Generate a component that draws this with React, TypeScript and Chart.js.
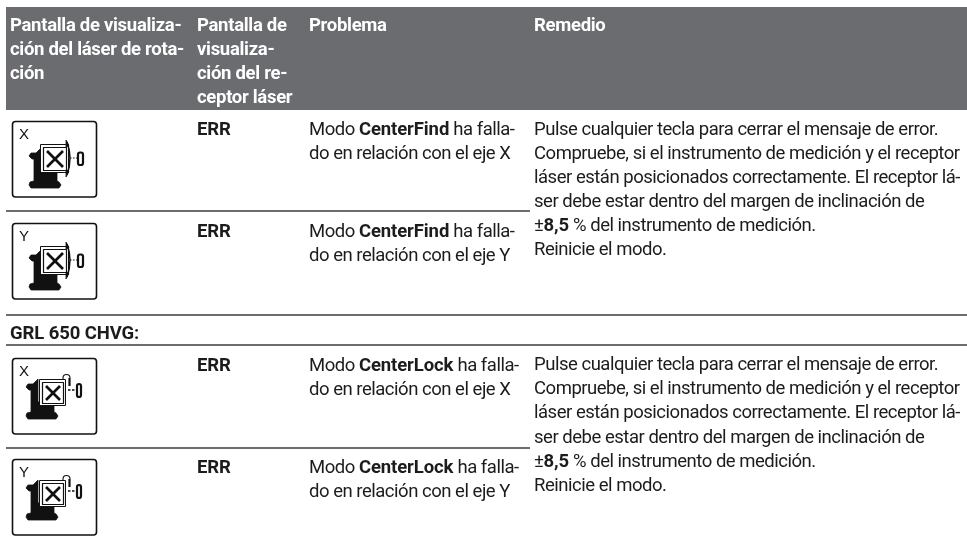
import React, { useEffect, useRef } from "react";
import { Chart, registerables } from "chart.js";

Chart.register(...registerables);

const W = 967;
const H = 541;

// table text: [x, baseline y, runs] where "*" toggles bold
const headerLines: [number, number, string][] = [
  [10, 31, "Pantalla de visualiza-"],
  [10, 55, "ción del láser de rota-"],
  [10, 79, "ción"],
  [197, 31, "Pantalla de"],
  [197, 55, "visualiza-"],
  [197, 79, "ción del re-"],
  [197, 103, "ceptor láser"],
  [309, 31, "Problema"],
  [534, 31, "Remedio"],
];

const bodyLines: [number, number, string][] = [
  [197, 135, "*ERR*"],
  [309, 135, "Modo *CenterFind* ha falla-"],
  [309, 159, "do en relación con el eje X"],
  [197, 237, "*ERR*"],
  [309, 237, "Modo *CenterFind* ha falla-"],
  [309, 261, "do en relación con el eje Y"],
  [10, 339, "*GRL 650 CHVG:*"],
  [197, 371, "*ERR*"],
  [309, 371, "Modo *CenterLock* ha falla-"],
  [309, 395, "do en relación con el eje X"],
  [197, 473, "*ERR*"],
  [309, 473, "Modo *CenterLock* ha falla-"],
  [309, 497, "do en relación con el eje Y"],
  [534, 135, "Pulse cualquier tecla para cerrar el mensaje de error."],
  [534, 159, "Compruebe, si el instrumento de medición y el receptor"],
  [534, 183, "láser están posicionados correctamente. El receptor lá-"],
  [534, 207, "ser debe estar dentro del margen de inclinación de"],
  [534, 231, "±*8,5* % del instrumento de medición."],
  [534, 255, "Reinicie el modo."],
  [534, 370, "Pulse cualquier tecla para cerrar el mensaje de error."],
  [534, 394, "Compruebe, si el instrumento de medición y el receptor"],
  [534, 418, "láser están posicionados correctamente. El receptor lá-"],
  [534, 443, "ser debe estar dentro del margen de inclinación de"],
  [534, 467, "±*8,5* % del instrumento de medición."],
  [534, 491, "Reinicie el modo."],
];

// icons: [left, top, axis letter, kind]
const icons: [number, number, string, "find" | "lock"][] = [
  [12, 121, "X", "find"],
  [12, 223, "Y", "find"],
  [12, 358, "X", "lock"],
  [12, 459, "Y", "lock"],
];

// rules: [y, x from, x to]
const rules: [number, number, number][] = [
  [211, 6, 530],
  [315, 6, 967],
  [345, 6, 967],
  [448, 6, 530],
];
const band = { y: 58.5, from: 6, to: 967, thickness: 103 };

const FONT = "Roboto, sans-serif";
const SIZE = 18.5;

function drawRuns(ctx: CanvasRenderingContext2D, x: number, y: number, text: string, color: string, allBold = false) {
  const parts = text.split("*");
  let cx = x;
  parts.forEach((p, i) => {
    const bold = allBold || i % 2 === 1;
    ctx.font = `${bold ? 700 : 400} ${SIZE}px ${FONT}`;
    (ctx as any).letterSpacing = allBold ? "-0.3px" : bold ? "-0.1px" : "-0.48px";
    ctx.fillStyle = color;
    ctx.fillText(p, cx, y);
    cx += ctx.measureText(p).width;
  });
}

function line(ctx: CanvasRenderingContext2D, pts: number[], lw: number) {
  ctx.lineWidth = lw;
  ctx.beginPath();
  for (let i = 0; i < pts.length; i += 2) {
    if (i === 0) ctx.moveTo(pts[i], pts[i + 1]);
    else ctx.lineTo(pts[i], pts[i + 1]);
  }
  ctx.stroke();
}

function fillPoly(ctx: CanvasRenderingContext2D, pts: number[]) {
  ctx.beginPath();
  for (let i = 0; i < pts.length; i += 2) {
    if (i === 0) ctx.moveTo(pts[i], pts[i + 1]);
    else ctx.lineTo(pts[i], pts[i + 1]);
  }
  ctx.closePath();
  ctx.lineWidth = 0.8;
  ctx.lineJoin = "round";
  ctx.fill();
  ctx.stroke();
}

function drawIcon(ctx: CanvasRenderingContext2D, x: number, y: number, letter: string, kind: "find" | "lock") {
  ctx.save();
  ctx.translate(x, y);
  ctx.strokeStyle = "#111";
  ctx.fillStyle = "#111";
  ctx.lineWidth = 1.6;
  ctx.beginPath();
  ctx.roundRect(0.5, 0.5, 84, 75.5, 3);
  ctx.stroke();

  ctx.font = "400 15px 'Liberation Sans', sans-serif";
  (ctx as any).letterSpacing = "0px";
  ctx.fillText(letter, 7, 18);

  const lock = kind === "lock";
  const sx = lock ? 27 : 28;
  const sy = lock ? 21 : 23;
  const s = lock ? 26 : 28;
  const ox = lock ? -3 : 0;
  const oy = lock ? -6 : 0;

  // machine silhouette
  fillPoly(ctx, [
    29 + ox, 27 + oy,
    24 + ox, 32 + oy,
    19 + ox, 32 + oy,
    17 + ox, 35 + oy,
    20 + ox, 38 + oy,
    22 + ox, 38 + oy,
    22 + ox, 60 + oy,
    18 + ox, 61 + oy,
    17 + ox, 64 + oy,
    19 + ox, 67 + oy,
    47 + ox, 67 + oy,
    49 + ox, 64 + oy,
    47 + ox, 61 + oy,
    45 + ox, 60 + oy,
    45 + ox, 50 + oy,
    29 + ox, 50 + oy,
  ]);

  // display square
  ctx.fillStyle = "#fff";
  ctx.fillRect(sx, sy, s, s);
  ctx.strokeStyle = "#111";
  ctx.lineWidth = 1;
  ctx.strokeRect(sx + 0.5, sy + 0.5, s, s);
  ctx.lineWidth = 1.2;
  ctx.strokeRect(sx + 3.5, sy + 3.5, s - 5, s - 5);
  ctx.lineCap = "butt";
  line(ctx, [sx + 7, sy + 7, sx + s - 5, sy + s - 5], 2.6);
  line(ctx, [sx + s - 5, sy + 7, sx + 7, sy + s - 5], 2.6);

  ctx.fillStyle = "#111";
  if (lock) {
    // padlock arc
    ctx.lineWidth = 1.1;
    ctx.beginPath();
    ctx.arc(54.5, 20, 3.5, Math.PI, 0);
    ctx.stroke();
    line(ctx, [51, 20, 51, 21], 1.1);
    line(ctx, [57.5, 20, 57.5, 28], 2.2);
    // dashes
    ctx.setLineDash([2.5, 1.5]);
    line(ctx, [56, 32, 64, 32], 1.4);
    ctx.setLineDash([]);
    // receiver
    ctx.lineWidth = 2.2;
    ctx.beginPath();
    ctx.roundRect(65, 26, 4, 13, 2);
    ctx.stroke();
  } else {
    // double arrow bracket
    ctx.lineWidth = 1.5;
    ctx.beginPath();
    ctx.moveTo(55, 21);
    ctx.quadraticCurveTo(61, 37, 55, 54);
    ctx.stroke();
    fillPoly(ctx, [54, 19, 57, 25, 54, 26]);
    fillPoly(ctx, [54, 56, 57, 50, 54, 49]);
    ctx.setLineDash([1.5, 1.5]);
    line(ctx, [58, 37, 65, 37], 1.2);
    ctx.setLineDash([]);
    ctx.lineWidth = 2.2;
    ctx.beginPath();
    ctx.roundRect(66, 31.5, 5, 12.5, 2);
    ctx.stroke();
  }
  ctx.restore();
}

const tablePlugin = {
  id: "tableText",
  afterDatasetsDraw(chart: any) {
    const { ctx, scales } = chart;
    const px = (v: number) => scales.x.getPixelForValue(v);
    const py = (v: number) => scales.y.getPixelForValue(v);
    ctx.save();
    ctx.textBaseline = "alphabetic";
    ctx.textAlign = "left";
    headerLines.forEach(([x, y, t]) => drawRuns(ctx, px(x), py(y), t, "#ffffff", true));
    bodyLines.forEach(([x, y, t]) => drawRuns(ctx, px(x), py(y), t, "#1c1c1e"));
    icons.forEach(([x, y, l, k]) => drawIcon(ctx, px(x), py(y), l, k));
    ctx.restore();
  },
};

export default function App() {
  const ref = useRef<HTMLCanvasElement>(null);
  useEffect(() => {
    document.body.style.margin = "0";
    const chart = new Chart(ref.current!, {
      type: "scatter",
      data: {
        datasets: [
          {
            label: "header",
            data: [
              { x: band.from, y: band.y },
              { x: band.to, y: band.y },
            ],
            showLine: true,
            pointRadius: 0,
            borderColor: "#6b6c70",
            borderWidth: band.thickness,
            borderCapStyle: "butt",
          },
          ...rules.map(([y, from, to]) => ({
            label: `rule ${y}`,
            data: [
              { x: from, y },
              { x: to, y },
            ],
            showLine: true,
            pointRadius: 0,
            borderColor: "#3c3c40",
            borderWidth: 1.5,
          })),
        ],
      },
      options: {
        animation: false,
        responsive: false,
        layout: { padding: 0 },
        plugins: { legend: { display: false }, tooltip: { enabled: false } },
        scales: {
          x: { type: "linear", min: 0, max: W, display: false },
          y: { type: "linear", min: 0, max: H, reverse: true, display: false },
        },
      } as any,
      plugins: [tablePlugin],
    } as any);
    return () => chart.destroy();
  }, []);
  return <canvas ref={ref} width={W} height={H} style={{ display: "block" }} />;
}
